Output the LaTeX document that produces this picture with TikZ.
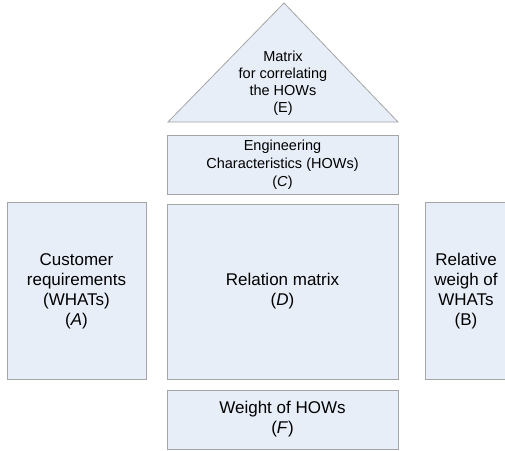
\documentclass[tikz,border=0pt]{standalone}
\usepackage{fontspec}
\setmainfont{Liberation Sans}
\usetikzlibrary{positioning}

\definecolor{boxfill}{RGB}{232,238,248}
\definecolor{boxline}{RGB}{165,165,165}

\begin{document}
\begin{tikzpicture}
		[
		x = 1pt, y = -1pt,
		part/.style = {draw = boxline, fill = boxfill, line width = 0.8pt, align = center, inner sep = 0pt},
		big/.style = {part, font = \fontsize{17}{20}\selectfont},
		small/.style = {part, font = \fontsize{14.5}{18}\selectfont},
		]
		
		\useasboundingbox (0,0) rectangle (505,450);
		\clip (0,0) rectangle (505,450);
		
		% roof
		\coordinate (roofL) at (168,122);
		\coordinate (roofR) at (398,122);
		\coordinate (roofT) at (284,3);
		\draw [draw = boxline, fill = boxfill, line width = 0.8pt] (roofL) -- (roofT) -- (roofR) -- cycle;
		\node (roof) [align = center, font = \fontsize{14.5}{17}\selectfont] at (283,83)
			{Matrix\\for correlating\\the HOWs\\(E)};
		
		% rooms
		\node (hows) [small, minimum width = 231pt, minimum height = 59pt] at (282.5,164.5)
			{Engineering\\Characteristics (HOWs)\\(\textit{C})};
		\node (rel) [big, minimum width = 231pt, minimum height = 175pt] at (282.5,291.5)
			{Relation matrix\\(\textit{D})};
		\node (whats) [big, minimum width = 139pt, minimum height = 177pt] at (76.5,291)
			{Customer\\requirements\\(WHATs)\\(\textit{A})};
		\node (weigh) [big, minimum width = 82pt, minimum height = 177pt] at (466,291)
			{Relative\\weigh of\\WHATs\\(B)};
		\node (weight) [big, minimum width = 231pt, minimum height = 59pt] at (282.5,419.5)
			{Weight of HOWs\\(\textit{F})};
		
		\end{tikzpicture}
\end{document}
